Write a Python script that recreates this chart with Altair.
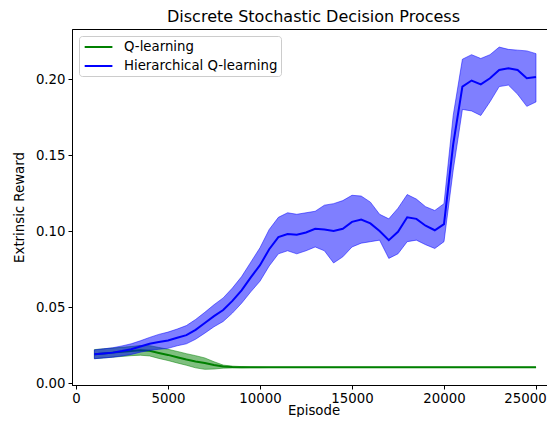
import altair as alt
import pandas as pd

episodes = list(range(1000, 25001, 500))

series_names = ["Q-learning", "Hierarchical Q-learning"]
series_colors = ["green", "blue"]

q_mean = [0.0190, 0.0195, 0.0200, 0.0205, 0.0210, 0.0215, 0.0212, 0.0198, 0.0185, 0.0170,
          0.0155, 0.0142, 0.0132, 0.0118, 0.0108, 0.0105, 0.0104] + [0.0103] * 32
q_lo = [0.0160, 0.0165, 0.0170, 0.0175, 0.0180, 0.0183, 0.0178, 0.0162, 0.0148, 0.0132,
        0.0117, 0.0100, 0.0090, 0.0092, 0.0098, 0.0099, 0.0100, 0.0101, 0.0101, 0.0102] + [0.0102] * 29
q_hi = [0.0220, 0.0225, 0.0230, 0.0235, 0.0240, 0.0247, 0.0246, 0.0234, 0.0222, 0.0208,
        0.0193, 0.0180, 0.0165, 0.0140, 0.0118, 0.0111, 0.0108, 0.0106, 0.0105, 0.0104] + [0.0104] * 29

h_mean = [0.0189, 0.0195, 0.0200, 0.0210, 0.0222, 0.0240, 0.0258, 0.0270, 0.0280, 0.0298,
          0.0315, 0.0350, 0.0395, 0.0440, 0.0480, 0.0540, 0.0610, 0.0695, 0.0775, 0.0880,
          0.0960, 0.0980, 0.0975, 0.0990, 0.1015, 0.1010, 0.1000, 0.1015, 0.1060, 0.1075,
          0.1050, 0.1000, 0.0940, 0.0995, 0.1090, 0.1080, 0.1035, 0.1005, 0.1045, 0.1570,
          0.1950, 0.1990, 0.1965, 0.2005, 0.2060, 0.2070, 0.2060, 0.2005, 0.2013]
h_lo = [0.0160, 0.0165, 0.0170, 0.0178, 0.0188, 0.0203, 0.0215, 0.0222, 0.0228, 0.0245,
        0.0258, 0.0288, 0.0328, 0.0370, 0.0405, 0.0460, 0.0525, 0.0600, 0.0670, 0.0770,
        0.0850, 0.0870, 0.0850, 0.0870, 0.0895, 0.0870, 0.0790, 0.0830, 0.0895, 0.0920,
        0.0930, 0.0940, 0.0820, 0.0850, 0.0930, 0.0940, 0.0910, 0.0885, 0.0930, 0.1400,
        0.1800, 0.1790, 0.1760, 0.1850, 0.1950, 0.1960, 0.1900, 0.1820, 0.1849]
h_hi = [0.0218, 0.0225, 0.0232, 0.0244, 0.0258, 0.0278, 0.0300, 0.0320, 0.0335, 0.0355,
        0.0378, 0.0418, 0.0465, 0.0515, 0.0560, 0.0625, 0.0700, 0.0795, 0.0890, 0.1010,
        0.1090, 0.1120, 0.1110, 0.1120, 0.1130, 0.1170, 0.1180, 0.1200, 0.1235, 0.1230,
        0.1190, 0.1110, 0.1080, 0.1150, 0.1240, 0.1210, 0.1160, 0.1135, 0.1180, 0.1760,
        0.2130, 0.2160, 0.2135, 0.2160, 0.2210, 0.2195, 0.2190, 0.2185, 0.2167]

x_ticks = [0, 5000, 10000, 15000, 20000, 25000]
y_ticks = [0.00, 0.05, 0.10, 0.15, 0.20]

q_df = pd.DataFrame({"Episode": episodes, "mean": q_mean, "lo": q_lo, "hi": q_hi,
                     "series": series_names[0]})
h_df = pd.DataFrame({"Episode": episodes, "mean": h_mean, "lo": h_lo, "hi": h_hi,
                     "series": series_names[1]})

FONT = "DejaVu Sans"

xscale = alt.Scale(domain=[-217, 26033], nice=False, zero=False)
yscale = alt.Scale(domain=[-0.0013, 0.2329], nice=False, zero=False)
xaxis = alt.Axis(values=x_ticks, format="d", title="Episode", labelFlush=False,
                 labelPadding=2, titleBaseline="alphabetic", titleY=29,
                 labelOffset={"condition": {"test": "datum.value == 25000", "value": -11},
                              "value": 0})
yaxis = alt.Axis(values=y_ticks, format=".2f", title="Extrinsic Reward", titlePadding=9)

color = alt.Color(
    "series:N",
    scale=alt.Scale(domain=series_names, range=series_colors),
    legend=alt.Legend(
        title=None, orient="top-left", offset=7, padding=3, rowPadding=4,
        symbolType="M-0.76,0L3.2,0", symbolSize=196, symbolStrokeWidth=2,
        labelOffset=26, labelFont=FONT, labelFontSize=13.3, labelColor="black",
        strokeColor="#cccccc", fillColor="rgba(255,255,255,0.8)", cornerRadius=3,
    ),
)


def band(df, c):
    return alt.Chart(df).mark_area(
        fill=c, fillOpacity=0.5, stroke=c, strokeOpacity=0.5, strokeWidth=1
    ).encode(
        x=alt.X("Episode:Q", scale=xscale, axis=xaxis),
        y=alt.Y("lo:Q", scale=yscale, axis=yaxis),
        y2="hi:Q",
    )


def line(df):
    return alt.Chart(df).mark_line(strokeWidth=2).encode(
        x=alt.X("Episode:Q", scale=xscale, axis=xaxis),
        y=alt.Y("mean:Q", scale=yscale, axis=yaxis),
        color=color,
    )


chart = alt.layer(
    band(q_df, "green"), line(q_df), band(h_df, "blue"), line(h_df)
).properties(
    width=483,
    height=356,
    title=alt.TitleParams("Discrete Stochastic Decision Process", font=FONT, fontSize=16,
                          fontWeight="normal", color="black", offset=4),
    autosize=alt.AutoSizeParams(type="none"),
    padding={"left": 64, "top": 21, "right": -8, "bottom": 32},
).configure_view(
    stroke="black", strokeWidth=1
).configure_axis(
    grid=False, domainColor="black", domainWidth=1, tickColor="black", tickWidth=1,
    tickSize=4, labelPadding=3, labelColor="black", labelFont=FONT, labelFontSize=13.3,
    titleFont=FONT, titleFontSize=13.3, titleFontWeight="normal", titleColor="black",
)

chart.save("out.html", embed_options={"renderer": "svg", "actions": False})
